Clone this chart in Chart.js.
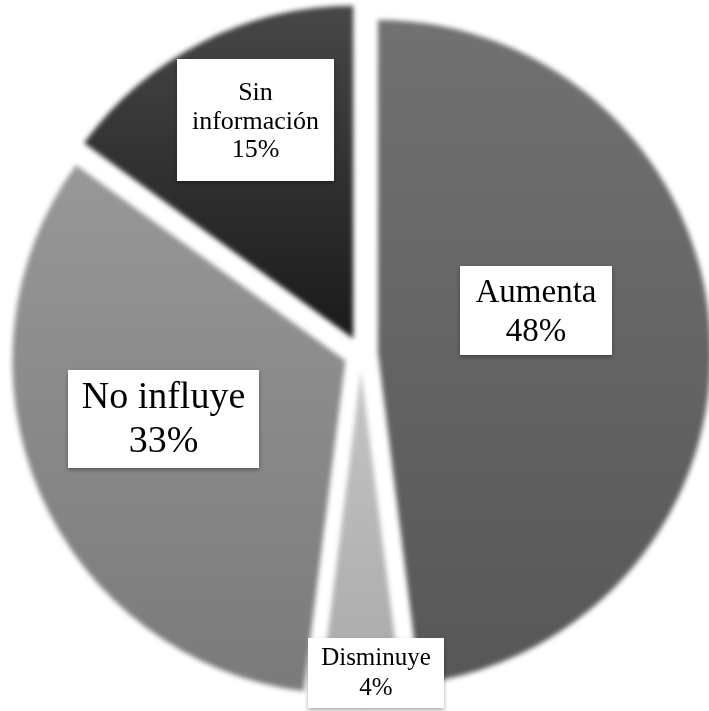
<!DOCTYPE html>
<html>
<head>
<meta charset="utf-8">
<script src="https://cdn.jsdelivr.net/npm/chart.js@4.4.1/dist/chart.umd.min.js"></script>
<style>
  html, body { margin: 0; padding: 0; background: #ffffff; overflow: hidden; }
  #wrap { width: 709px; height: 711px; }
</style>
</head>
<body>
<div id="wrap"><canvas id="pie" width="709" height="711"></canvas></div>
<script>
// Share of answers per category (percent)
const categories = ['Aumenta', 'Disminuye', 'No influye', 'Sin información'];
const shares = [48, 4, 33, 15];

// Vertical shading of each slice: [colour at top of canvas, colour at bottom]
const sliceShades = [
  [[0, '#727272'], [1, '#565656']],
  [[0, '#e2e2e2'], [1, '#a6a6a6']],
  [[0, '#a0a0a0'], [1, '#797979']],
  [[0, '#4a4a4a'], [0.48, '#1c1c1c'], [1, '#1a1a1a']]
];

// Label boxes: centre, size, font size, baseline of each text line, wrapped name
const labelBoxes = [
  { x: 536, y: 310.5, w: 152, h: 89, size: 33, lines: [293, 332], wrap: false },
  { x: 376, y: 673, w: 136, h: 70, size: 25, lines: [658, 688], wrap: false },
  { x: 163.5, y: 419, w: 191, h: 98, size: 38, lines: [398, 442], wrap: false },
  { x: 255.5, y: 120, w: 157, h: 122, size: 26, lines: [93, 122, 150], wrap: true }
];

const EXPLODE = 17;     // distance each slice is pulled away from the centre
const FONT = '"Liberation Serif", "Times New Roman", serif';

const canvas = document.getElementById('pie');
const ctx0 = canvas.getContext('2d');
const fills = sliceShades.map(stops => {
  const g = ctx0.createLinearGradient(0, 0, 0, 711);
  stops.forEach(([p, c]) => g.addColorStop(p, c));
  return g;
});

// Draws the arcs pulled apart along their mid angle, with soft edges
const explodedSlices = {
  id: 'explodedSlices',
  beforeDatasetDraw(chart, args) {
    const ctx = chart.ctx;
    ctx.save();
    ctx.filter = 'blur(2.5px)';
    args.meta.data.forEach(arc => {
      const mid = (arc.startAngle + arc.endAngle) / 2;
      ctx.save();
      ctx.translate(Math.cos(mid) * EXPLODE, Math.sin(mid) * EXPLODE);
      arc.draw(ctx);
      ctx.restore();
    });
    ctx.restore();
    return false;
  }
};

// White boxes with category name and percentage
const boxLabels = {
  id: 'boxLabels',
  afterDraw(chart) {
    const ctx = chart.ctx;
    const labels = chart.data.labels;
    const values = chart.data.datasets[0].data;
    labelBoxes.forEach((b, i) => {
      ctx.save();
      ctx.shadowColor = 'rgba(0,0,0,0.35)';
      ctx.shadowBlur = 4;
      ctx.shadowOffsetY = 2;
      ctx.fillStyle = '#ffffff';
      ctx.fillRect(b.x - b.w / 2, b.y - b.h / 2, b.w, b.h);
      ctx.restore();

      const text = b.wrap ? labels[i].split(' ') : [labels[i]];
      text.push(values[i] + '%');
      ctx.save();
      ctx.fillStyle = '#000000';
      ctx.font = b.size + 'px ' + FONT;
      ctx.textAlign = 'center';
      ctx.textBaseline = 'middle';
      text.forEach((t, k) => ctx.fillText(t, b.x, b.lines[k]));
      ctx.restore();
    });
  }
};

new Chart(canvas, {
  type: 'pie',
  data: {
    labels: categories,
    datasets: [{
      data: shares,
      backgroundColor: fills,
      borderWidth: 0,
      hoverOffset: 0,
      radius: 333,
      clip: false
    }]
  },
  options: {
    responsive: false,
    animation: false,
    events: [],
    layout: { padding: { left: 13, right: 0, top: 0, bottom: 3 } },
    plugins: {
      legend: { display: false },
      tooltip: { enabled: false }
    }
  },
  plugins: [explodedSlices, boxLabels]
});
</script>
</body>
</html>
